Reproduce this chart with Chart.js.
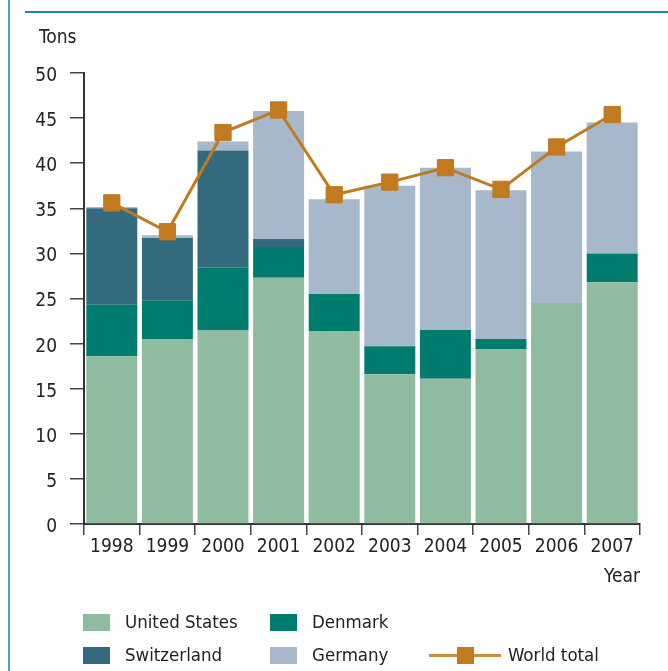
<!DOCTYPE html>
<html>
<head>
<meta charset="utf-8">
<script src="https://cdn.jsdelivr.net/npm/chart.js@4/dist/chart.umd.min.js"></script>
<style>
  html, body { margin: 0; padding: 0; background: #fff; }
  #wrap { position: relative; width: 668px; height: 671px; overflow: hidden; background: #fff; }
  #chart { position: absolute; left: 0; top: 0; }
  #leftRule { position: absolute; left: 8px; top: 0; width: 2px; height: 671px; background: #4ba3cf; }
  #topRule { position: absolute; left: 25px; top: 11px; width: 643px; height: 2px; background: #1f80b9; }
  .lg { position: absolute; font-family: 'Liberation Sans Narrow', 'DejaVu Sans Condensed', sans-serif; font-size: 18.5px; color: #222; line-height: 22px; white-space: nowrap; }
  .sw { position: absolute; width: 27px; height: 17px; }
  .ln { position: absolute; height: 3px; }
  .mk { position: absolute; width: 17px; height: 17px; }
</style>
</head>
<body>
<div id="wrap">
  <canvas id="chart" width="668" height="671"></canvas>
  <div id="leftRule"></div>
  <div id="topRule"></div>
  <div id="legend"></div>
</div>
<script>
const years = ['1998', '1999', '2000', '2001', '2002', '2003', '2004', '2005', '2006', '2007'];
const unitedStates = [18.6, 20.5, 21.5, 27.3, 21.4, 16.6, 16.1, 19.4, 24.5, 26.8];
const denmark      = [5.7, 4.3, 6.9, 3.4, 4.1, 3.1, 5.4, 1.1, 0, 3.2];
const switzerland  = [10.7, 6.9, 13.0, 0.9, 0, 0, 0, 0, 0, 0];
const germany      = [0.15, 0.3, 1.0, 14.2, 10.5, 17.8, 18.0, 16.5, 16.8, 14.5];
const worldTotal   = [35.6, 32.4, 43.4, 45.9, 36.5, 37.9, 39.5, 37.1, 41.8, 45.4];
const yAxisTitle = 'Tons';
const xAxisTitle = 'Year';

const FONT = "'Liberation Sans Narrow', 'DejaVu Sans Condensed', sans-serif";
const FSIZE = 19;
const TEXT = '#222';
const C_US = '#8fbc9f', C_DK = '#007c6e', C_CH = '#336a7e', C_DE = '#a6b8ca', C_WT = '#c17a1f';

const yTitlePlugin = {
  id: 'yTitle',
  afterDraw(chart) {
    const ctx = chart.ctx;
    const area = chart.chartArea;
    ctx.save();
    ctx.font = FSIZE + 'px ' + FONT;
    ctx.fillStyle = TEXT;
    ctx.textAlign = 'left';
    ctx.textBaseline = 'middle';
    ctx.fillText(yAxisTitle, 39, area.top - 35);
    ctx.restore();
  }
};

const barCommon = { type: 'bar', stack: 'countries', order: 1, borderWidth: 0, barPercentage: 0.917, categoryPercentage: 1.0 };

const chart = new Chart(document.getElementById('chart'), {
  data: {
    labels: years,
    datasets: [
      Object.assign({ label: 'United States', data: unitedStates, backgroundColor: C_US }, barCommon),
      Object.assign({ label: 'Denmark', data: denmark, backgroundColor: C_DK }, barCommon),
      Object.assign({ label: 'Switzerland', data: switzerland, backgroundColor: C_CH }, barCommon),
      Object.assign({ label: 'Germany', data: germany, backgroundColor: C_DE }, barCommon),
      {
        type: 'line', label: 'World total', data: worldTotal, stack: 'total', order: 0,
        borderColor: C_WT, borderWidth: 3, tension: 0,
        pointStyle: 'rect', pointRadius: 11.5, pointBorderWidth: 1,
        pointBackgroundColor: C_WT, pointBorderColor: C_WT
      }
    ]
  },
  options: {
    responsive: false,
    animation: false,
    devicePixelRatio: 1,
    layout: { padding: { left: 0, right: 28, top: 73, bottom: 83 } },
    plugins: { legend: { display: false }, tooltip: { enabled: false } },
    scales: {
      x: {
        stacked: true,
        offset: true,
        grid: { display: true, drawOnChartArea: false, offset: true, tickLength: 11, color: '#444', lineWidth: 1.5 },
        border: { display: true, color: '#333', width: 2 },
        ticks: { color: TEXT, font: { family: FONT, size: FSIZE }, padding: 1, maxRotation: 0 },
        title: { display: true, text: xAxisTitle, align: 'end', color: TEXT, font: { family: FONT, size: FSIZE }, padding: 0 },
        afterFit(scale) { scale.height = 64; }
      },
      y: {
        stacked: true,
        min: 0, max: 50,
        ticks: { stepSize: 5, color: TEXT, font: { family: FONT, size: FSIZE }, padding: 13, labelOffset: 3 },
        grid: { display: true, drawOnChartArea: false, tickLength: 14, color: '#444', lineWidth: 1.5 },
        border: { display: true, color: '#333', width: 2 },
        afterFit(scale) { scale.width = 84; }
      }
    }
  },
  plugins: [yTitlePlugin]
});

// Legend built from the chart's datasets
const legendPos = [
  { x: 83, y: 622 },   // United States
  { x: 270, y: 622 },  // Denmark
  { x: 83, y: 655 },   // Switzerland
  { x: 270, y: 655 },  // Germany
  { x: 429, y: 655 }   // World total
];
const legendEl = document.getElementById('legend');
chart.data.datasets.forEach((ds, i) => {
  const p = legendPos[i];
  if (ds.type === 'bar') {
    const sw = document.createElement('div');
    sw.className = 'sw';
    sw.style.left = p.x + 'px';
    sw.style.top = (p.y - 8.5) + 'px';
    sw.style.background = ds.backgroundColor;
    legendEl.appendChild(sw);
    const t = document.createElement('div');
    t.className = 'lg';
    t.textContent = ds.label;
    t.style.left = (p.x + 42) + 'px';
    t.style.top = (p.y - 11) + 'px';
    legendEl.appendChild(t);
  } else {
    const ln = document.createElement('div');
    ln.className = 'ln';
    ln.style.left = p.x + 'px';
    ln.style.top = (p.y - 1.5) + 'px';
    ln.style.width = '72px';
    ln.style.background = ds.borderColor;
    ln.style.opacity = '0.85';
    legendEl.appendChild(ln);
    const mk = document.createElement('div');
    mk.className = 'mk';
    mk.style.left = (p.x + 28) + 'px';
    mk.style.top = (p.y - 8.5) + 'px';
    mk.style.background = ds.pointBackgroundColor;
    legendEl.appendChild(mk);
    const t = document.createElement('div');
    t.className = 'lg';
    t.textContent = ds.label;
    t.style.left = (p.x + 79) + 'px';
    t.style.top = (p.y - 11) + 'px';
    legendEl.appendChild(t);
  }
});
</script>
</body>
</html>
